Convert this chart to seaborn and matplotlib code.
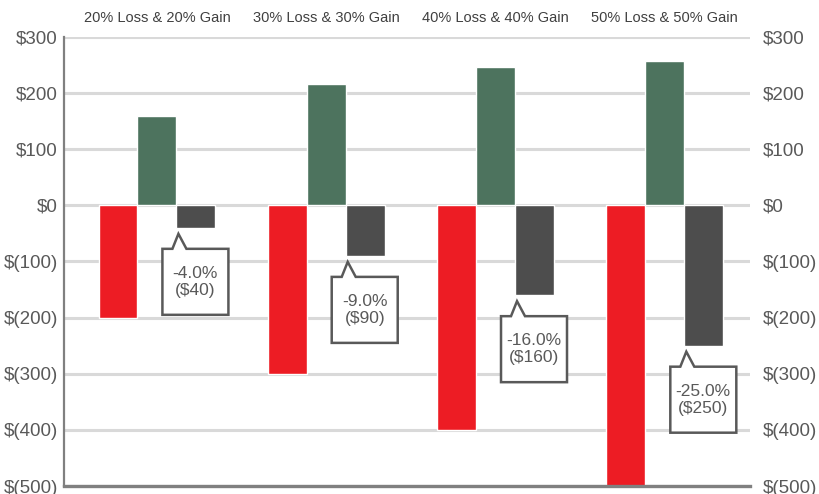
import numpy as np
import pandas as pd
import matplotlib
matplotlib.use("Agg")
import matplotlib.pyplot as plt
import matplotlib.transforms as mtransforms
from matplotlib.patches import Polygon
from matplotlib.ticker import FuncFormatter, FixedLocator
import seaborn as sns

# Data: $1,000 hit by a loss, then the same percentage gain
scenarios = ["20% Loss & 20% Gain", "30% Loss & 30% Gain",
             "40% Loss & 40% Gain", "50% Loss & 50% Gain"]
loss = [-200, -300, -400, -500]
gain = [160, 216, 246, 257]
net = [-40, -90, -160, -250]
net_pct = [-4.0, -9.0, -16.0, -25.0]
series = ["Loss", "Gain", "Net"]
colors = ["#ED1C24", "#4D735E", "#4D4D4D"]
y_ticks = list(range(-500, 301, 100))

df = pd.DataFrame({
    "scenario": scenarios * 3,
    "series": np.repeat(series, len(scenarios)),
    "value": loss + gain + net,
})

sns.set_theme(style="white")
plt.rcParams["font.family"] = ["Liberation Sans", "DejaVu Sans"]

W, H = 820, 494
fig = plt.figure(figsize=(W / 100, H / 100), dpi=100)
ax = fig.add_axes([64 / W, 8 / H, (750 - 64) / W, (486 - 37) / H])

sns.barplot(data=df, x="scenario", y="value", hue="series", hue_order=series,
            palette=colors, saturation=1, width=0.69, dodge=True,
            errorbar=None, legend=False, ax=ax, zorder=3)

def money(v, _pos=None):
    v = int(round(v))
    return f"${v}" if v >= 0 else f"$({-v})"

ax.set_ylim(-500, 300)
ax.set_xlim(-0.549, 3.503)
ax.yaxis.set_major_locator(FixedLocator(y_ticks))
ax.yaxis.set_major_formatter(FuncFormatter(money))
ax.set_xlabel("")
ax.set_ylabel("")
ax.set_axisbelow(True)
ax.yaxis.grid(True, color="#D9D9D9", linewidth=2.2)
ax.xaxis.grid(False)

ax.xaxis.tick_top()
ax.tick_params(axis="x", length=0, pad=9, labelsize=10.5, labelcolor="#404040")
ax.tick_params(axis="y", length=0, pad=4.5, labelsize=13.5, labelcolor="#595959")

for side in ("top", "right"):
    ax.spines[side].set_visible(False)
ax.spines["left"].set_color("#808080")
ax.spines["left"].set_linewidth(1.6)
ax.spines["bottom"].set_color("#808080")
ax.spines["bottom"].set_linewidth(2.4)
ax.spines["bottom"].set_zorder(4)

# Right-hand copy of the dollar scale
ax2 = ax.twinx()
ax2.set_ylim(ax.get_ylim())
ax2.yaxis.set_major_locator(FixedLocator(y_ticks))
ax2.yaxis.set_major_formatter(FuncFormatter(money))
ax2.tick_params(axis="y", length=0, pad=9, labelsize=13.5, labelcolor="#595959")
ax2.grid(False)
for s in ax2.spines.values():
    s.set_visible(False)

# Callout boxes under each net bar (shape in pixels, anchored at bar's lower-left)
shape_px = np.array([(-14, -21), (-4, -21), (2, -6), (10, -21), (52, -21),
                     (52, -87), (-14, -87)], dtype=float)
net_bars = ax.containers[2]
for bar, pct, v in zip(net_bars, net_pct, net):
    bx = bar.get_x()
    by = min(bar.get_y(), bar.get_y() + bar.get_height())
    trans = fig.dpi_scale_trans + mtransforms.ScaledTranslation(bx, by, ax.transData)
    poly = Polygon(shape_px / 100.0, closed=True, transform=trans,
                   facecolor="white", edgecolor="#595959", linewidth=1.8,
                   joinstyle="miter", zorder=6, clip_on=False)
    ax.add_artist(poly)
    ax.annotate(f"{pct:.1f}%\n(${-v})", xy=(bx, by), xytext=(19, -54),
                textcoords="offset pixels", ha="center", va="center",
                fontsize=12.5, color="#595959", linespacing=1.15, zorder=7)

fig.savefig("out.png", dpi=100)
